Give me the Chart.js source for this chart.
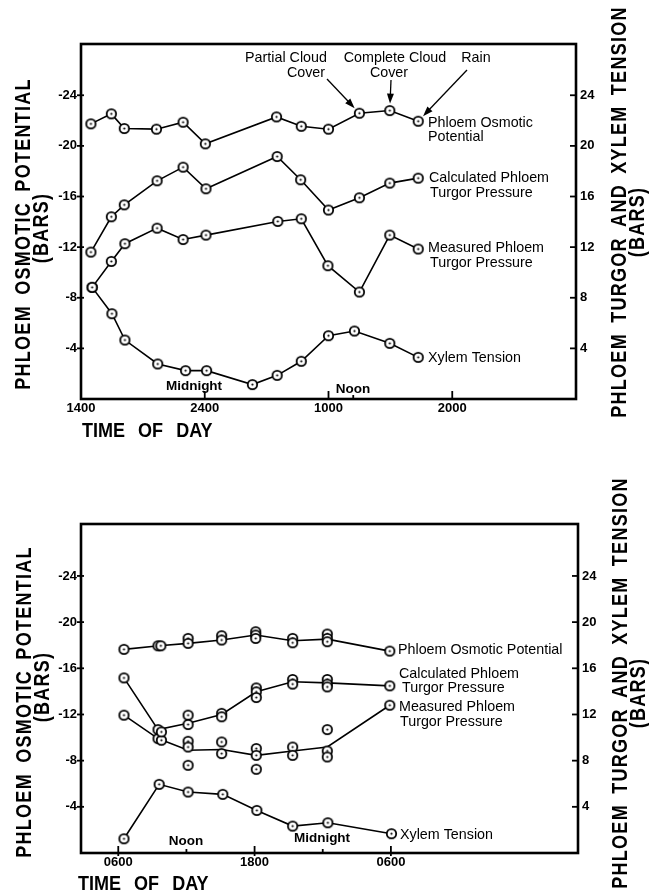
<!DOCTYPE html>
<html>
<head>
<meta charset="utf-8">
<script src="https://cdn.jsdelivr.net/npm/chart.js@4.4.0/dist/chart.umd.min.js"></script>
<style>
	body { margin: 0; background: #fff; }
	.panel { position: absolute; left: 0; }
</style>
</head>
<body>
<div class="panel" style="top:0"><canvas id="grafica-dia1" width="649" height="446"></canvas></div>
<div class="panel" style="top:446px"><canvas id="grafica-dia2" width="649" height="447"></canvas></div>
<script>
// ---- shared axis values ----
var ejeYTicks = [4, 8, 12, 16, 20, 24];
var ejeYIzqLabels = ['-4', '-8', '-12', '-16', '-20', '-24'];
var ejeYDerLabels = ['4', '8', '12', '16', '20', '24'];

// ---- upper panel: hours after 1400 ----
var arribaTicksHoras = [0, 10, 20, 30];
var arribaTicksLabels = ['1400', '2400', '1000', '2000'];

var arribaOsmHoras = [0.8, 2.45, 3.5, 6.1, 8.25, 10.05, 15.8, 17.8, 20.0, 22.5, 24.95, 27.25];
var arribaOsmValores = [21.74, 22.53, 21.37, 21.32, 21.87, 20.16, 22.29, 21.55, 21.32, 22.58, 22.79, 21.95];

var arribaCalcHoras = [0.8, 2.45, 3.5, 6.15, 8.25, 10.1, 15.85, 17.75, 20.0, 22.5, 24.95, 27.25];
var arribaCalcValores = [11.61, 14.4, 15.34, 17.24, 18.32, 16.61, 19.16, 17.32, 14.93, 15.9, 17.06, 17.45];

var arribaMedHoras = [0.9, 2.45, 3.55, 6.15, 8.25, 10.1, 15.9, 17.8, 19.95, 22.5, 24.95, 27.25];
var arribaMedValores = [8.82, 10.87, 12.27, 13.5, 12.6, 12.95, 14.03, 14.24, 10.53, 8.45, 12.95, 11.85];

var arribaXilHoras = [0.9, 2.5, 3.55, 6.2, 8.45, 10.15, 13.85, 15.85, 17.8, 20.0, 22.1, 24.95, 27.25];
var arribaXilValores = [8.82, 6.74, 4.66, 2.77, 2.24, 2.24, 1.14, 1.87, 2.98, 5.0, 5.37, 4.4, 3.29];

// ---- lower panel: hours after 0600 ----
var abajoTicksHoras = [0, 12, 24];
var abajoTicksLabels = ['0600', '1800', '0600'];

var abajoOsmHoras = [0.5, 3.6, 6.15, 9.1, 12.1, 15.35, 18.4, 23.9];
var abajoOsmMedias = [17.64, 17.95, 18.16, 18.45, 18.88, 18.39, 18.53, 17.49];
var abajoOsmPuntosHoras = [0.5, 3.5, 3.75, 6.15, 6.15, 9.1, 9.1, 12.1, 12.1, 12.1, 15.35, 15.35, 18.4, 18.4, 18.4, 23.9];
var abajoOsmPuntos = [17.64, 17.95, 17.95, 18.59, 18.16, 18.82, 18.45, 19.17, 18.88, 18.59, 18.59, 18.21, 18.97, 18.59, 18.3, 17.49];

var abajoCalcHoras = [0.5, 3.5, 6.15, 9.1, 12.15, 15.35, 18.4, 23.9];
var abajoCalcMedias = [15.17, 10.69, 11.24, 12.0, 13.96, 14.83, 14.74, 14.48];
var abajoCalcPuntosHoras = [0.5, 3.5, 3.8, 6.15, 6.15, 9.1, 9.1, 12.15, 12.15, 12.15, 15.35, 15.35, 18.4, 18.4, 18.4, 23.9];
var abajoCalcPuntos = [15.17, 10.69, 10.49, 11.94, 11.13, 12.1, 11.8, 14.3, 13.96, 13.47, 15.03, 14.63, 15.03, 14.63, 14.39, 14.48];

var abajoMedHoras = [0.5, 3.5, 6.15, 9.1, 12.15, 15.35, 18.4, 23.9];
var abajoMedMedias = [11.94, 9.91, 8.9, 8.96, 8.46, 8.84, 9.18, 12.8];
var abajoMedPuntosHoras = [0.5, 3.5, 3.8, 6.15, 6.15, 6.15, 9.1, 9.1, 12.15, 12.15, 12.15, 15.35, 15.35, 18.4, 18.4, 18.4, 23.9];
var abajoMedPuntos = [11.94, 9.91, 9.77, 9.68, 9.18, 7.6, 9.62, 8.61, 9.05, 8.46, 7.25, 9.18, 8.46, 10.69, 8.84, 8.32, 12.8];

var abajoXilHoras = [0.5, 3.6, 6.15, 9.2, 12.2, 15.35, 18.45, 24.05];
var abajoXilValores = [1.23, 5.95, 5.28, 5.08, 3.69, 2.33, 2.62, 1.67];

/*******************************************************************************
 * helpers
 *******************************************************************************/

var FUENTE = '"Liberation Sans", Arial, Helvetica, sans-serif';

function creaMarcador()
{
	var c = document.createElement('canvas');
	c.width = 13;
	c.height = 13;
	var g = c.getContext('2d');
	g.beginPath();
	g.arc(6.5, 6.5, 4.7, 0, Math.PI * 2);
	g.fillStyle = '#fff';
	g.fill();
	g.lineWidth = 1.8;
	g.strokeStyle = '#000';
	g.stroke();
	g.beginPath();
	g.arc(6.5, 6.5, 1.1, 0, Math.PI * 2);
	g.fillStyle = '#000';
	g.fill();
	return c;
}
var marcador = creaMarcador();

function puntos(horas, valores)
{
	var res = [];
	for (var i = 0; i < horas.length; i++)
		res.push({ x: horas[i], y: valores[i] });
	return res;
}

function serieLinea(horas, valores, conMarcas)
{
	return {
		type: 'line',
		data: puntos(horas, valores),
		borderColor: '#000',
		borderWidth: 1.6,
		pointStyle: marcador,
		pointRadius: conMarcas ? 5 : 0,
		pointHoverRadius: conMarcas ? 5 : 0,
		tension: 0,
		fill: false,
		order: 2
	};
}

function serieCirculos(horas, valores)
{
	return {
		type: 'line',
		showLine: false,
		data: puntos(horas, valores),
		pointStyle: marcador,
		pointRadius: 5,
		pointHoverRadius: 5,
		order: 1
	};
}

function texto(ctx, t, x, y, o)
{
	ctx.save();
	ctx.translate(x, y);
	if (o.vertical) ctx.rotate(-Math.PI / 2);
	if (o.squeeze) ctx.scale(o.squeeze, 1);
	ctx.font = o.font;
	ctx.fillStyle = '#000';
	ctx.textAlign = o.align || 'left';
	ctx.textBaseline = o.baseline || 'middle';
	ctx.letterSpacing = o.spacing || '0px';
	ctx.wordSpacing = o.words || '0px';
	ctx.fillText(t, 0, 0);
	ctx.restore();
}

function flecha(ctx, x0, y0, x1, y1)
{
	var dx = x1 - x0, dy = y1 - y0;
	var len = Math.sqrt(dx * dx + dy * dy);
	var ux = dx / len, uy = dy / len;
	var tx = x1 - ux * 7, ty = y1 - uy * 7;
	ctx.lineWidth = 1.3;
	ctx.beginPath();
	ctx.moveTo(x0, y0);
	ctx.lineTo(tx - ux * 6, ty - uy * 6);
	ctx.stroke();
	ctx.beginPath();
	ctx.moveTo(tx, ty);
	ctx.lineTo(tx - ux * 10 - uy * 3.5, ty - uy * 10 + ux * 3.5);
	ctx.lineTo(tx - ux * 10 + uy * 3.5, ty - uy * 10 - ux * 3.5);
	ctx.closePath();
	ctx.fill();
}

function linea(ctx, x0, y0, x1, y1)
{
	ctx.beginPath();
	ctx.moveTo(x0, y0);
	ctx.lineTo(x1, y1);
	ctx.stroke();
}

var fuenteTick = { family: FUENTE, size: 13, weight: 'bold', lineHeight: 1.2 };
var fuenteTitulo = 'bold 22px ' + FUENTE;
var fuenteSerie = '14.3px ' + FUENTE;
var fuenteHora = 'bold 13.5px ' + FUENTE;
var estiloVertical = { font: fuenteTitulo, vertical: true, align: 'center', squeeze: 0.82, spacing: '1.5px', words: '5px' };
var estiloHorizontal = { font: 'bold 20px ' + FUENTE, baseline: 'alphabetic', squeeze: 0.9, words: '9px' };

function escalas(ticksX, labelsX, xmin, xmax, ymax, altoX, anchoDer)
{
	return {
		x: {
			type: 'linear', min: xmin, max: xmax,
			afterBuildTicks: function (s) { s.ticks = ticksX.map(function (v) { return { value: v }; }); },
			afterFit: function (s) { s.height = altoX; },
			ticks: { callback: function (v, i) { return labelsX[i]; }, font: fuenteTick, color: '#000', padding: 2, maxRotation: 0, autoSkip: false },
			grid: { display: false, drawTicks: false },
			border: { display: false }
		},
		y: {
			type: 'linear', position: 'left', min: 0, max: ymax,
			afterBuildTicks: function (s) { s.ticks = ejeYTicks.map(function (v) { return { value: v }; }); },
			afterFit: function (s) { s.width = 81; },
			ticks: { callback: function (v, i) { return ejeYIzqLabels[i]; }, font: fuenteTick, color: '#000', padding: 4 },
			grid: { display: false, drawTicks: false },
			border: { display: false }
		},
		y2: {
			type: 'linear', position: 'right', min: 0, max: ymax,
			afterBuildTicks: function (s) { s.ticks = ejeYTicks.map(function (v) { return { value: v }; }); },
			afterFit: function (s) { s.width = anchoDer; },
			ticks: { callback: function (v, i) { return ejeYDerLabels[i]; }, font: fuenteTick, color: '#000', padding: 4 },
			grid: { display: false, drawTicks: false },
			border: { display: false }
		}
	};
}

// box, tick marks on both y axes and on x
function marco(ctx, chart, ticksX, menores, largoMayor, bajoEje)
{
	var a = chart.chartArea;
	var sx = chart.scales.x, sy = chart.scales.y;
	ctx.save();
	ctx.strokeStyle = '#000';
	ctx.fillStyle = '#000';
	ctx.lineWidth = 2.6;
	ctx.strokeRect(a.left, a.top, a.right - a.left, a.bottom - a.top);
	ctx.lineWidth = 1.8;
	for (var i = 0; i < ejeYTicks.length; i++)
	{
		var py = sy.getPixelForValue(ejeYTicks[i]);
		linea(ctx, a.left - 4, py, a.left + 3, py);
		linea(ctx, a.right - 6, py, a.right + 1, py);
	}
	for (var j = 0; j < ticksX.length; j++)
	{
		var px = sx.getPixelForValue(ticksX[j]);
		if (px - a.left < 3) continue;
		linea(ctx, px, a.bottom - largoMayor, px, a.bottom + bajoEje);
	}
	for (var k = 0; k < menores.length; k++)
	{
		var pm = sx.getPixelForValue(menores[k]);
		linea(ctx, pm, a.bottom - 4, pm, a.bottom);
	}
	ctx.restore();
}

/*******************************************************************************
 * upper chart
 *******************************************************************************/

var decorArriba = {
	id: 'decorArriba',
	afterDraw: function (chart)
	{
		var ctx = chart.ctx;
		var sx = chart.scales.x, sy = chart.scales.y;
		marco(ctx, chart, arribaTicksHoras, [22], 8, 0);

		texto(ctx, 'Midnight', 194, 390, { font: fuenteHora, align: 'center', baseline: 'alphabetic' });
		texto(ctx, 'Noon', 353, 393, { font: fuenteHora, align: 'center', baseline: 'alphabetic' });

		texto(ctx, 'Partial Cloud', 286, 58, { font: fuenteSerie, align: 'center' });
		texto(ctx, 'Cover', 306, 73, { font: fuenteSerie, align: 'center' });
		texto(ctx, 'Complete Cloud', 395, 58, { font: fuenteSerie, align: 'center' });
		texto(ctx, 'Cover', 389, 73, { font: fuenteSerie, align: 'center' });
		texto(ctx, 'Rain', 476, 58, { font: fuenteSerie, align: 'center' });

		ctx.save();
		ctx.strokeStyle = '#000';
		ctx.fillStyle = '#000';
		var n = arribaOsmHoras.length;
		flecha(ctx, 327, 79, sx.getPixelForValue(arribaOsmHoras[n - 3]), sy.getPixelForValue(arribaOsmValores[n - 3]));
		flecha(ctx, 391, 80, sx.getPixelForValue(arribaOsmHoras[n - 2]), sy.getPixelForValue(arribaOsmValores[n - 2]));
		flecha(ctx, 467, 70, sx.getPixelForValue(arribaOsmHoras[n - 1]), sy.getPixelForValue(arribaOsmValores[n - 1]));
		ctx.restore();

		texto(ctx, 'Phloem Osmotic', 428, 123, { font: fuenteSerie });
		texto(ctx, 'Potential', 428, 137, { font: fuenteSerie });
		texto(ctx, 'Calculated Phloem', 429, 178, { font: fuenteSerie });
		texto(ctx, 'Turgor Pressure', 430, 193, { font: fuenteSerie });
		texto(ctx, 'Measured Phloem', 428, 248, { font: fuenteSerie });
		texto(ctx, 'Turgor Pressure', 430, 263, { font: fuenteSerie });
		texto(ctx, 'Xylem Tension', 428, 358, { font: fuenteSerie });

		texto(ctx, 'PHLOEM OSMOTIC POTENTIAL', 24, 234, estiloVertical);
		texto(ctx, '(BARS)', 42, 228, estiloVertical);
		texto(ctx, 'PHLOEM TURGOR AND XYLEM TENSION', 620, 212, estiloVertical);
		texto(ctx, '(BARS)', 638, 222, estiloVertical);
		texto(ctx, 'TIME OF DAY', 82, 437, estiloHorizontal);
	}
};

new Chart(document.getElementById('grafica-dia1'), {
	type: 'line',
	data: {
		datasets: [
			serieLinea(arribaOsmHoras, arribaOsmValores, true),
			serieLinea(arribaCalcHoras, arribaCalcValores, true),
			serieLinea(arribaMedHoras, arribaMedValores, true),
			serieLinea(arribaXilHoras, arribaXilValores, true)
		]
	},
	options: {
		responsive: false,
		animation: false,
		devicePixelRatio: 1,
		layout: { padding: { top: 44, left: 0, right: 0, bottom: 0 } },
		plugins: { legend: { display: false }, tooltip: { enabled: false } },
		scales: escalas(arribaTicksHoras, arribaTicksLabels, 0, 40, 28.05, 47, 73)
	},
	plugins: [decorArriba]
});

/*******************************************************************************
 * lower chart
 *******************************************************************************/

var decorAbajo = {
	id: 'decorAbajo',
	afterDraw: function (chart)
	{
		var ctx = chart.ctx;
		marco(ctx, chart, abajoTicksHoras, [6, 18], 7, 3);

		texto(ctx, 'Noon', 186, 399, { font: fuenteHora, align: 'center', baseline: 'alphabetic' });
		texto(ctx, 'Midnight', 322, 396, { font: fuenteHora, align: 'center', baseline: 'alphabetic' });

		texto(ctx, 'Phloem Osmotic Potential', 398, 204, { font: fuenteSerie });
		texto(ctx, 'Calculated Phloem', 399, 228, { font: fuenteSerie });
		texto(ctx, 'Turgor Pressure', 402, 242, { font: fuenteSerie });
		texto(ctx, 'Measured Phloem', 399, 261, { font: fuenteSerie });
		texto(ctx, 'Turgor Pressure', 400, 276, { font: fuenteSerie });
		texto(ctx, 'Xylem Tension', 400, 389, { font: fuenteSerie });

		texto(ctx, 'PHLOEM OSMOTIC POTENTIAL', 25, 256, estiloVertical);
		texto(ctx, '(BARS)', 43, 241, estiloVertical);
		texto(ctx, 'PHLOEM TURGOR AND XYLEM TENSION', 621, 237, estiloVertical);
		texto(ctx, '(BARS)', 639, 247, estiloVertical);
		texto(ctx, 'TIME OF DAY', 78, 444, estiloHorizontal);
	}
};

new Chart(document.getElementById('grafica-dia2'), {
	type: 'line',
	data: {
		datasets: [
			serieCirculos(abajoOsmPuntosHoras, abajoOsmPuntos),
			serieCirculos(abajoCalcPuntosHoras, abajoCalcPuntos),
			serieCirculos(abajoMedPuntosHoras, abajoMedPuntos),
			serieCirculos(abajoXilHoras, abajoXilValores),
			serieLinea(abajoOsmHoras, abajoOsmMedias, false),
			serieLinea(abajoCalcHoras, abajoCalcMedias, false),
			serieLinea(abajoMedHoras, abajoMedMedias, false),
			serieLinea(abajoXilHoras, abajoXilValores, false)
		]
	},
	options: {
		responsive: false,
		animation: false,
		devicePixelRatio: 1,
		layout: { padding: { top: 78, left: 0, right: 0, bottom: 0 } },
		plugins: { legend: { display: false }, tooltip: { enabled: false } },
		scales: escalas(abajoTicksHoras, abajoTicksLabels, -3.28, 40.47, 28.5, 40, 71)
	},
	plugins: [decorAbajo]
});
</script>
</body>
</html>
